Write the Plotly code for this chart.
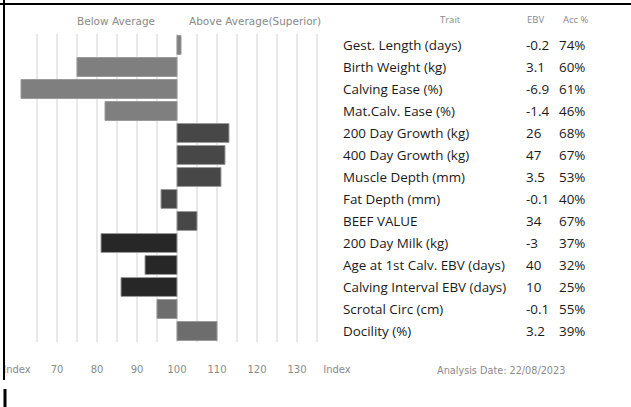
import plotly.graph_objects as go

traits = ['Gest. Length (days)', 'Birth Weight (kg)', 'Calving Ease (%)', 'Mat.Calv. Ease (%)',
          '200 Day Growth (kg)', '400 Day Growth (kg)', 'Muscle Depth (mm)', 'Fat Depth (mm)',
          'BEEF VALUE', '200 Day Milk (kg)', 'Age at 1st Calv. EBV (days)',
          'Calving Interval EBV (days)', 'Scrotal Circ (cm)', 'Docility (%)']
ebv = ['-0.2', '3.1', '-6.9', '-1.4', '26', '47', '3.5', '-0.1', '34', '-3', '40', '10', '-0.1', '3.2']
acc = ['74%', '60%', '61%', '46%', '68%', '67%', '53%', '40%', '67%', '37%', '32%', '25%', '55%', '39%']
index_vals = [101, 75, 61, 82, 113, 112, 111, 96, 105, 81, 92, 86, 95, 110]
groups = ['calving'] * 4 + ['growth'] * 5 + ['fertility'] * 3 + ['other'] * 2

tick_vals = list(range(60, 141, 5))
tick_text = ['Index' if v in (60, 140) else (str(v) if v % 10 == 0 else '') for v in tick_vals]

group_col = {'calving': '#7f7f7f', 'growth': '#474747', 'fertility': '#272727', 'other': '#6d6d6d'}

W, H = 631, 407
L, R, T, B = 0, 0, 34, 65


# pixel -> paper helpers (paper refers to the plot area, not the whole figure)
def px(x):
    return (x - L) / (W - L - R)


def py(y):
    return (H - B - y) / (H - T - B)


fig = go.Figure()
fig.add_trace(go.Bar(
    y=traits, x=[v - 100 for v in index_vals], base=100, orientation='h',
    marker=dict(color=[group_col[g] for g in groups], line=dict(color='#9a9a9a', width=1)),
    showlegend=False, hoverinfo='skip',
))

gray = '#8a8a8a'
txt = dict(family='Open Sans', size=13.4, color='#1a1a1a')
ann = []
for t, e, a in zip(traits, ebv, acc):
    ann.append(dict(x=px(341), y=t, xref='paper', yref='y', text=t, showarrow=False,
                    xanchor='left', font=txt))
    ann.append(dict(x=px(524), y=t, xref='paper', yref='y', text=e, showarrow=False,
                    xanchor='left', font=txt))
    ann.append(dict(x=px(557), y=t, xref='paper', yref='y', text=a, showarrow=False,
                    xanchor='left', font=txt))


def head(x, y, text, size=10, family='DejaVu Sans'):
    return dict(x=px(x), y=py(y), xref='paper', yref='paper', text=text, showarrow=False,
                xanchor='center', yanchor='middle', font=dict(family=family, size=size, color=gray))


ann += [
    head(116, 21, 'Below Average', 10.5),
    head(255, 21, 'Above Average(Superior)', 10.5),
    head(450, 19, 'Trait', 9.5, 'Open Sans'),
    head(535, 19, 'EBV', 9.5, 'Open Sans'),
    head(576, 19, 'Acc %', 9.5, 'Open Sans'),
    head(501, 370, 'Analysis Date: 22/08/2023', 9.7),
]

frame = [
    # top and left border of the panel
    dict(type='line', xref='paper', yref='paper', x0=px(0), x1=px(W), y0=py(4), y1=py(4),
         line=dict(color='black', width=2)),
    dict(type='line', xref='paper', yref='paper', x0=px(4), x1=px(4), y0=py(0), y1=py(380),
         line=dict(color='black', width=2)),
    # short heavy stub at the bottom left
    dict(type='line', xref='paper', yref='paper', x0=px(5), x1=px(5), y0=py(389), y1=py(H),
         line=dict(color='black', width=3)),
]

fig.update_layout(
    width=W, height=H,
    margin=dict(l=L, r=R, t=T, b=B, autoexpand=False),
    plot_bgcolor='white', paper_bgcolor='white',
    bargap=0.14,
    annotations=ann,
    shapes=frame,
    xaxis=dict(
        domain=[px(17), px(337)], range=[60, 140],
        tickvals=tick_vals, ticktext=tick_text,
        showgrid=True, gridcolor='#e8e8e8', gridwidth=2,
        zeroline=False, showline=False, automargin=False,
        ticklabelstandoff=20,
        tickfont=dict(family='DejaVu Sans', size=10, color=gray),
    ),
    yaxis=dict(
        autorange='reversed', showticklabels=False, showgrid=False, zeroline=False, automargin=False,
    ),
)

# page body has an 8px default margin; drop it so the figure sits at the window corner
fig.write_html('out.html', config={'displayModeBar': False},
               post_script="document.body.style.margin='0px';document.body.style.overflow='hidden';")
